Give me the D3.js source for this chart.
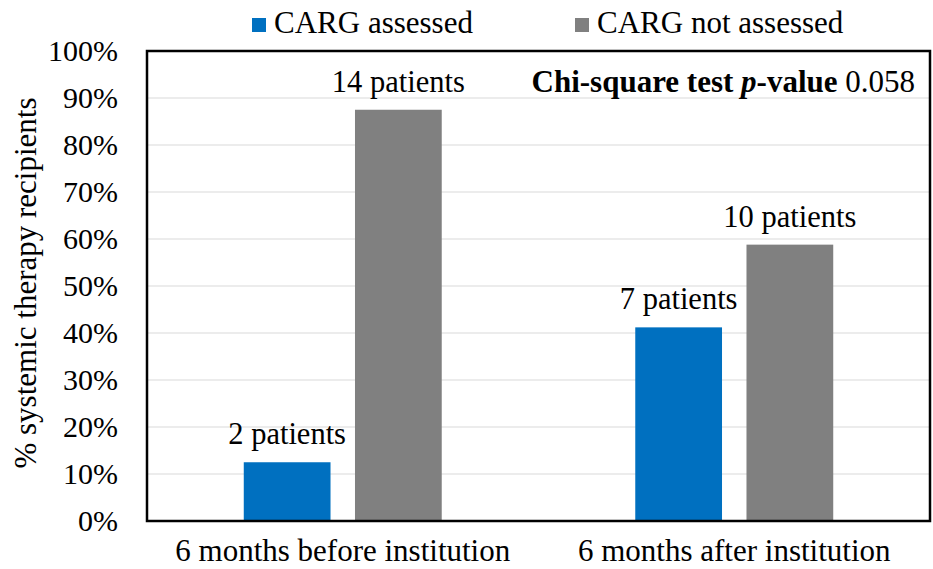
<!DOCTYPE html>
<html>
<head>
<meta charset="utf-8">
<script src="https://cdn.jsdelivr.net/npm/d3@7"></script>
<style>
  body { margin: 0; background: #fff; }
</style>
</head>
<body>
<div id="chart"></div>
<script>
// data
const categories = ['6 months before institution', '6 months after institution'];
const seriesNames = ['CARG assessed', 'CARG not assessed'];
const assessedPct = [12.5, 41.2];
const notAssessedPct = [87.5, 58.8];
const assessedCounts = [2, 7];
const notAssessedCounts = [14, 10];
const yTicks = [0, 10, 20, 30, 40, 50, 60, 70, 80, 90, 100];

const width = 933, height = 569;
const margin = { top: 51, right: 3, bottom: 48, left: 147 };
const colors = ['#0070C0', '#808080'];
const serif = "'Liberation Serif'";

const svg = d3.select('#chart').append('svg')
    .attr('width', width)
    .attr('height', height)
    .style('font-family', serif);

const x0 = d3.scaleBand()
    .domain(categories)
    .range([margin.left, width - margin.right]);

const x1 = d3.scaleBand()
    .domain(seriesNames)
    .range([0, x0.bandwidth()])
    .paddingInner(0.22)
    .paddingOuter(0.87);

const y = d3.scaleLinear()
    .domain([0, 100])
    .range([height - margin.bottom, margin.top]);

// gridlines
svg.append('g')
    .selectAll('line')
    .data(yTicks.filter(d => d > 0 && d < 100))
    .enter().append('line')
    .attr('x1', margin.left)
    .attr('x2', width - margin.right)
    .attr('y1', d => y(d))
    .attr('y2', d => y(d))
    .attr('stroke', '#d9d9d9')
    .attr('stroke-width', 1.2);

// bars
const rows = categories.map((c, i) => ({
    cat: c,
    vals: [
        { s: seriesNames[0], v: assessedPct[i], n: assessedCounts[i] },
        { s: seriesNames[1], v: notAssessedPct[i], n: notAssessedCounts[i] }
    ]
}));

const grp = svg.append('g').selectAll('g')
    .data(rows)
    .enter().append('g')
    .attr('transform', d => `translate(${x0(d.cat)},0)`);

grp.selectAll('rect')
    .data(d => d.vals)
    .enter().append('rect')
    .attr('x', d => x1(d.s))
    .attr('y', d => y(d.v))
    .attr('width', x1.bandwidth())
    .attr('height', d => y(0) - y(d.v))
    .attr('fill', (d, i) => colors[i]);

grp.selectAll('text')
    .data(d => d.vals)
    .enter().append('text')
    .attr('x', d => x1(d.s) + x1.bandwidth() / 2)
    .attr('y', d => y(d.v) - 18)
    .attr('text-anchor', 'middle')
    .style('font-family', serif)
    .style('font-size', '30.5px')
    .text(d => `${d.n} patients`);

// y axis labels
const yAxis = svg.append('g')
    .attr('transform', `translate(${margin.left},0)`)
    .call(d3.axisLeft(y).tickValues(yTicks).tickSize(0).tickPadding(29).tickFormat(d => d + '%'));
yAxis.select('.domain').remove();
yAxis.attr('font-family', null).attr('font-size', null);
yAxis.selectAll('text')
    .style('font-size', '30px')
    .style('font-family', serif)
    .attr('fill', '#000');

// x axis labels
const xAxis = svg.append('g')
    .attr('transform', `translate(0,${height - margin.bottom})`)
    .call(d3.axisBottom(x0).tickSize(0).tickPadding(18));
xAxis.select('.domain').remove();
xAxis.attr('font-family', null).attr('font-size', null);
xAxis.selectAll('text')
    .style('font-size', '31px')
    .style('font-family', serif)
    .attr('fill', '#000');

// plot frame
svg.append('rect')
    .attr('x', margin.left)
    .attr('y', margin.top)
    .attr('width', width - margin.left - margin.right)
    .attr('height', height - margin.top - margin.bottom)
    .attr('fill', 'none')
    .attr('stroke', '#000')
    .attr('stroke-width', 2.5);

// y axis title
svg.append('text')
    .attr('transform', 'translate(36,283) rotate(-90)')
    .attr('text-anchor', 'middle')
    .style('font-family', serif)
    .style('font-size', '31px')
    .text('% systemic therapy recipients');

// chi-square note
const note = svg.append('text')
    .attr('x', 915)
    .attr('y', 92)
    .attr('text-anchor', 'end')
    .style('font-family', serif)
    .style('font-size', '31px');
note.append('tspan').style('font-weight', 'bold').text('Chi-square test ');
note.append('tspan').style('font-weight', 'bold').style('font-style', 'italic').text('p');
note.append('tspan').style('font-weight', 'bold').text('-value');
note.append('tspan').text(' 0.058');

// legend
const legendX = [252, 575];
const legend = svg.append('g').selectAll('g')
    .data(seriesNames)
    .enter().append('g')
    .attr('transform', (d, i) => `translate(${legendX[i]},0)`);
legend.append('rect')
    .attr('x', 0).attr('y', 18)
    .attr('width', 14).attr('height', 14)
    .attr('fill', (d, i) => colors[i]);
legend.append('text')
    .attr('x', 22).attr('y', 33)
    .style('font-family', serif)
    .style('font-size', '31px')
    .text(d => d);
</script>
</body>
</html>
